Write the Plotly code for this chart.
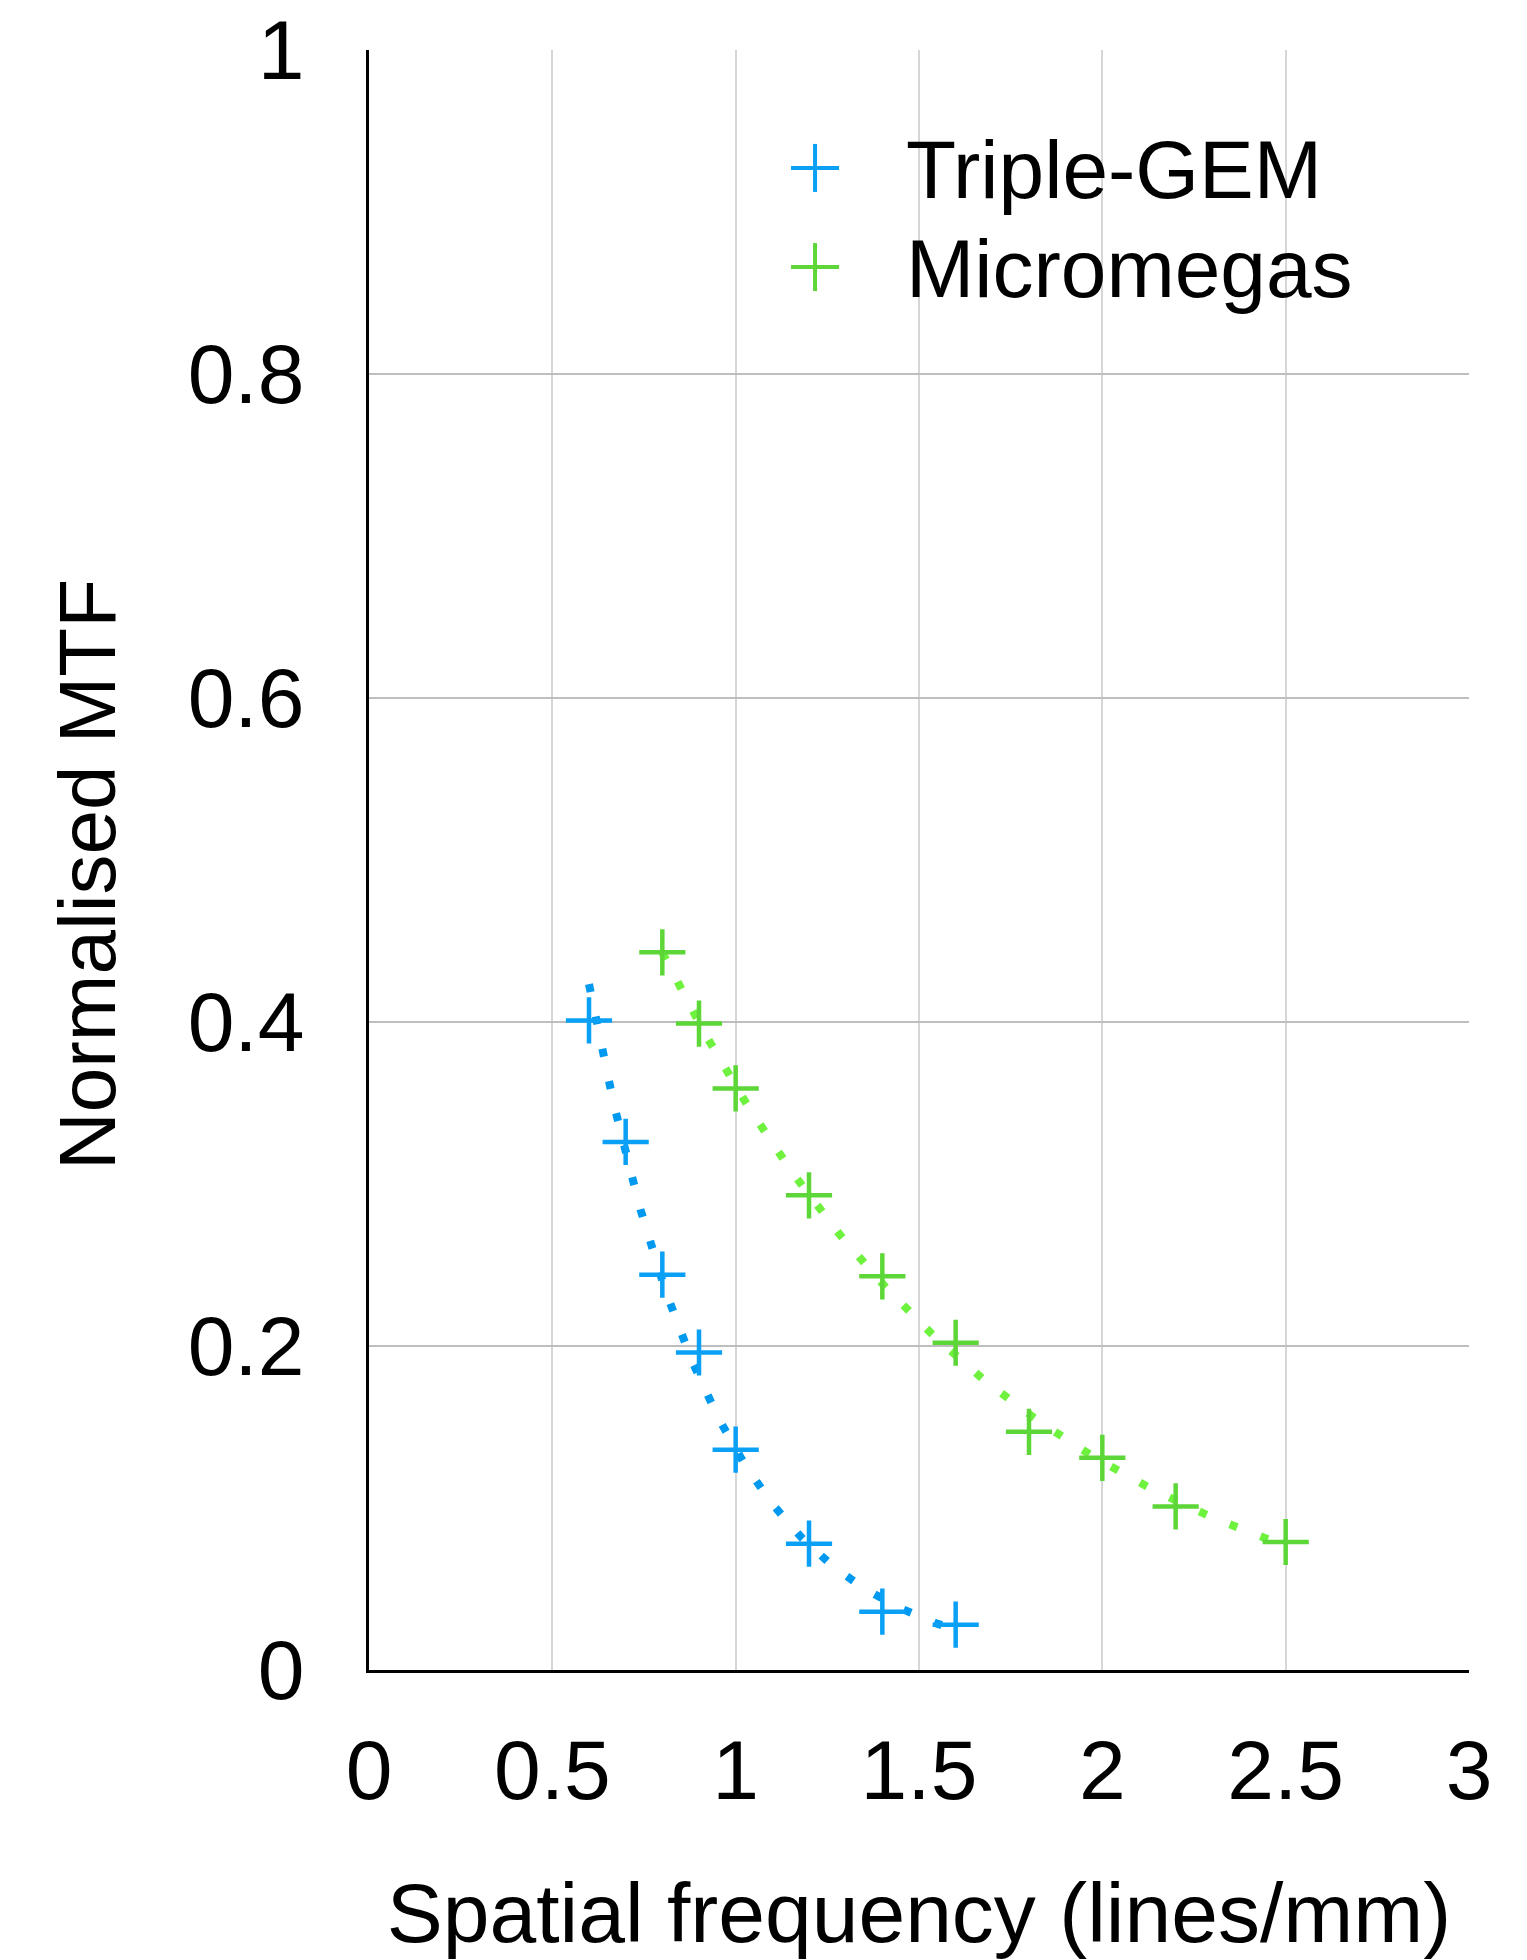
import numpy as np
import plotly.graph_objects as go

# Data
gem_x = [0.6, 0.7, 0.8, 0.9, 1.0, 1.2, 1.4, 1.6]
gem_y = [0.401, 0.326, 0.244, 0.196, 0.136, 0.078, 0.036, 0.028]

mm_x = [0.8, 0.9, 1.0, 1.2, 1.4, 1.6, 1.8, 2.0, 2.2, 2.5]
mm_y = [0.443, 0.399, 0.359, 0.293, 0.243, 0.202, 0.147, 0.131, 0.101, 0.079]

series_names = ["Triple-GEM", "Micromegas"]
x_ticks = [0, 0.5, 1, 1.5, 2, 2.5, 3]
x_tick_text = ["0", "0.5", "1", "1.5", "2", "2.5", "3"]
y_ticks = [0, 0.2, 0.4, 0.6, 0.8, 1]
y_tick_text = ["0", "0.2", "0.4", "0.6", "0.8", "1"]

BLUE = "#0AA0F5"
BLUE_DOT = "#0099F0"
GREEN = "#5DD638"
GREEN_DOT = "#6EF23E"
FONT = "Liberation Sans, Arial, Helvetica, sans-serif"


def exp_trend(xs, ys):
    b, ln_a = np.polyfit(np.array(xs), np.log(np.array(ys)), 1)
    xx = np.linspace(min(xs), max(xs), 200)
    return xx, np.exp(ln_a) * np.exp(b * xx)


fig = go.Figure()

for xs, ys, dc in [(gem_x, gem_y, BLUE_DOT), (mm_x, mm_y, GREEN_DOT)]:
    tx, ty = exp_trend(xs, ys)
    fig.add_trace(go.Scatter(x=tx, y=ty, mode="lines", showlegend=False,
                             line=dict(color=dc, width=8, dash="8px,25px"),
                             hoverinfo="skip"))

for xs, ys, c, n in [(gem_x, gem_y, BLUE, series_names[0]), (mm_x, mm_y, GREEN, series_names[1])]:
    fig.add_trace(go.Scatter(x=xs, y=ys, mode="markers", name=n, showlegend=False,
                             marker=dict(symbol="cross-thin", size=33,
                                         line=dict(color=c, width=4.5))))

# Custom legend (paper coordinates)
legend_rows = [(0.9272, BLUE, series_names[0]), (0.866, GREEN, series_names[1])]
cx = 0.4055
hx = 24 / 1100
hy = 24 / 1620
shapes = []
annotations = []
for ry, c, n in legend_rows:
    shapes.append(dict(type="line", xref="paper", yref="paper", x0=cx - hx, x1=cx + hx,
                       y0=ry, y1=ry, line=dict(color=c, width=4)))
    shapes.append(dict(type="line", xref="paper", yref="paper", x0=cx, x1=cx,
                       y0=ry - hy, y1=ry + hy, line=dict(color=c, width=4)))
    annotations.append(dict(xref="paper", yref="paper", x=(904 - 369) / 1100, y=ry - 0.001,
                            xanchor="left", yanchor="middle", showarrow=False, text=n,
                            font=dict(family=FONT, size=82, color="black")))

# y-axis title
annotations.append(dict(xref="paper", yref="paper", x=(87 - 369) / 1100, y=0.4907,
                        xanchor="center", yanchor="middle", showarrow=False,
                        text="Normalised MTF", textangle=-90,
                        font=dict(family=FONT, size=80, color="black")))

fig.update_layout(
    width=1527, height=1960,
    margin=dict(l=369, r=58, t=50, b=290),
    paper_bgcolor="white", plot_bgcolor="white",
    font=dict(family=FONT, size=84, color="black"),
    shapes=shapes, annotations=annotations,
    showlegend=False,
)

fig.update_xaxes(
    range=[0, 3], tickmode="array", tickvals=x_ticks, ticktext=x_tick_text,
    showgrid=True, gridcolor="#D6D6D6", gridwidth=2,
    showline=True, linecolor="black", linewidth=2.5, zeroline=False,
    ticks="", ticklabelstandoff=25,
    tickfont=dict(family=FONT, size=84, color="black"),
    title=dict(text="Spatial frequency (lines/mm)", standoff=68,
               font=dict(family=FONT, size=84, color="black")),
    automargin=False,
)
fig.update_yaxes(
    range=[0, 1], tickmode="array", tickvals=y_ticks, ticktext=y_tick_text,
    showgrid=True, gridcolor="#BEBEBE", gridwidth=2,
    showline=True, linecolor="black", linewidth=2.5, zeroline=False,
    ticks="", ticklabelstandoff=45,
    tickfont=dict(family=FONT, size=84, color="black"),
    automargin=False,
)

fig.write_html("out.html")
